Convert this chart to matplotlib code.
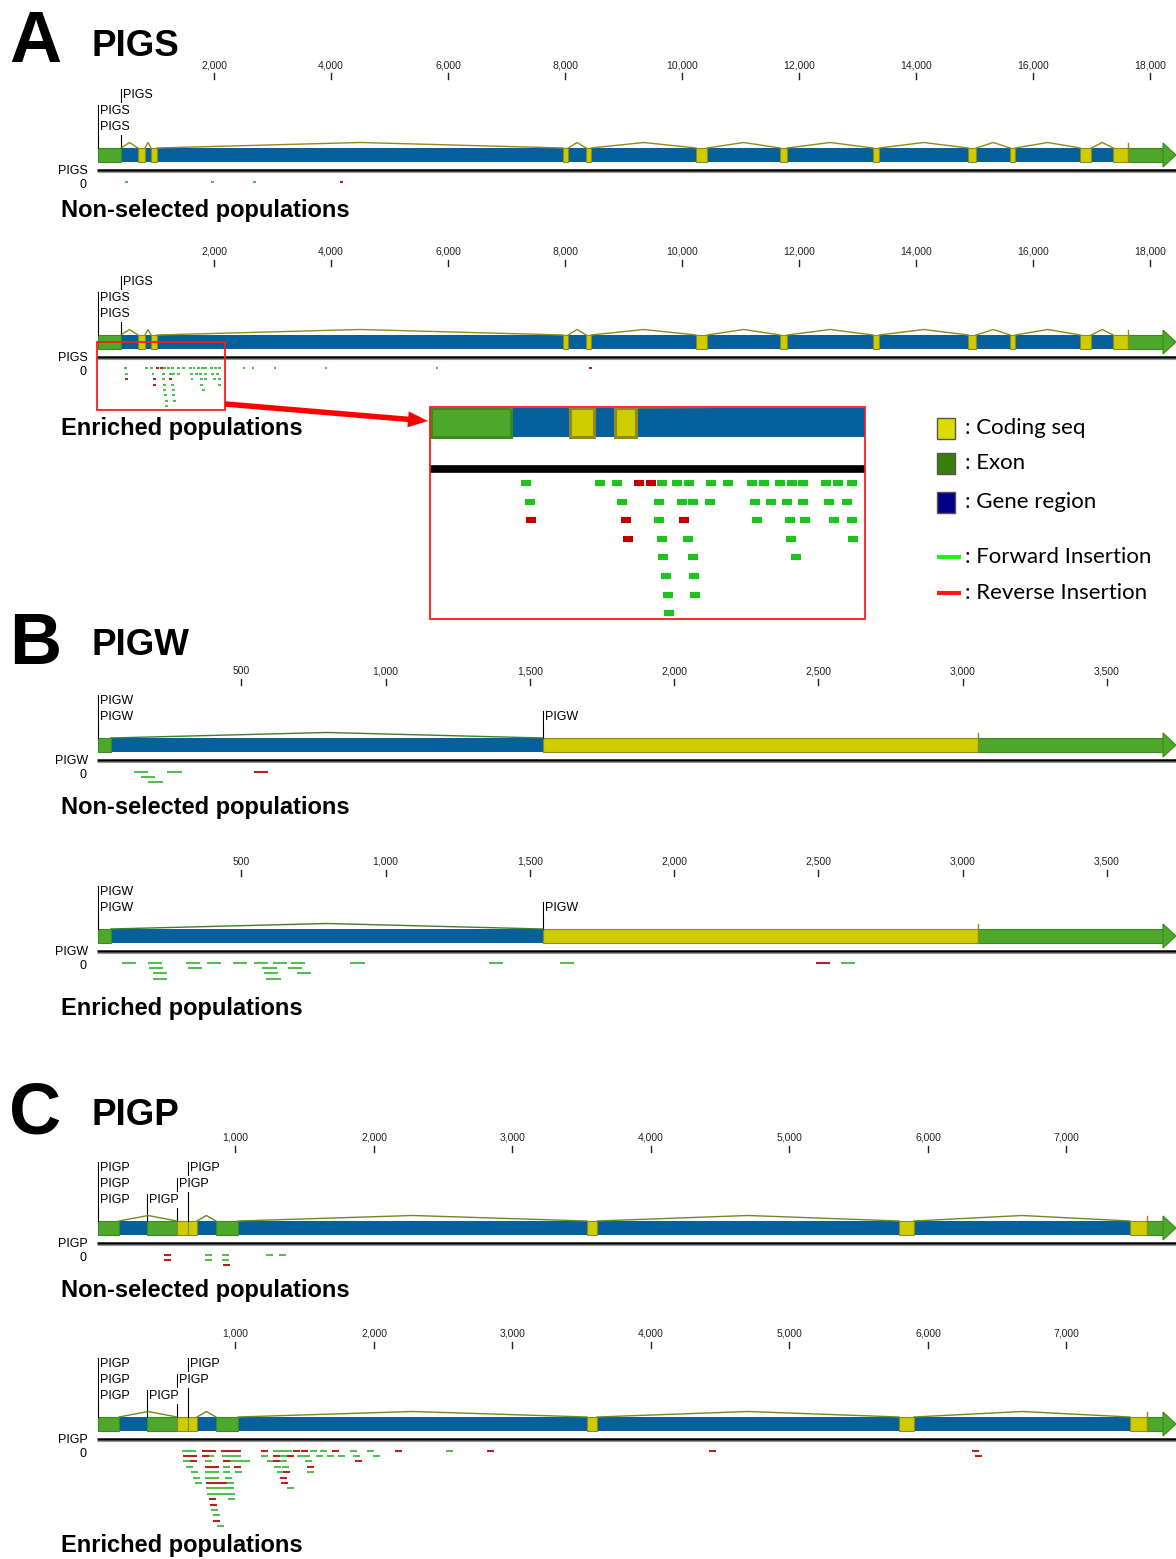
import matplotlib.pyplot as plt
from matplotlib.patches import Rectangle, Polygon, FancyArrow

plt.rcParams['font.family'] = ['Liberation Sans', 'DejaVu Sans']

W, H = 1176, 1559
X0 = 97          # pixel column of bp 0 in every track
ROW = 5.4        # spacing of stacked insertion rows (px)
READ = 50        # bp covered by one insertion dash

BLUE = '#05609c'
GREEN = '#4ea82c'
GREEN_EDGE = '#3b8a1d'
YELLOW = '#cfcc00'
OLIVE = '#8e8a1c'
FWD = '#52bf52'
REV = '#b32323'

# ---------------- PIGS ----------------
pigs_end = 18440
pigs_ticks = [2000, 4000, 6000, 8000, 10000, 12000, 14000, 16000, 18000]
pigs_exons = [(17, 410), (17624, 18440)]
pigs_cds = [(700, 820), (923, 1026), (7966, 8051), (8359, 8444), (10239, 10427),
            (11675, 11795), (13265, 13368), (14889, 15026), (15607, 15692),
            (16803, 16991), (17368, 17624)]
pigs_introns = [(410, 700), (820, 923), (1026, 7966), (8051, 8359), (8444, 10239),
                (10427, 11675), (11795, 13265), (13368, 14889), (15026, 15607),
                (15692, 16803), (16991, 17368)]
pigs_marks = [17624]
pigs_labels = [(17, 1), (17, 2), (410, 0)]

pigs_ns_fwd = [(480, 0), (1950, 0), (2670, 0)]
pigs_ns_rev = [(4155, 0)]

pigs_en_fwd = [(457, 0), (824, 0), (908, 0), (1130, 0), (1204, 0), (1263, 0), (1372, 0),
               (1455, 0), (1574, 0), (1633, 0), (1712, 0), (1771, 0), (1825, 0), (1939, 0),
               (1998, 0), (2067, 0), (2487, 0), (2641, 0), (3017, 0), (3889, 0), (5786, 0),
               (479, 1), (932, 1), (1115, 1), (1228, 1), (1283, 1), (1367, 1), (1589, 1),
               (1668, 1), (1746, 1), (1825, 1), (1954, 1), (2042, 1),
               (1115, 2), (1598, 2), (1761, 2), (1835, 2), (1978, 2), (2067, 2),
               (1130, 3), (1258, 3), (1766, 3), (2072, 3),
               (1135, 4), (1283, 4), (1791, 4),
               (1149, 5), (1288, 5),
               (1159, 6), (1293, 6),
               (1164, 7)]
pigs_en_rev = [(1016, 0), (1075, 0), (8402, 0), (483, 2), (952, 2), (1238, 2), (962, 3)]

# ---------------- PIGW ----------------
pigw_end = 3739
pigw_ticks = [500, 1000, 1500, 2000, 2500, 3000, 3500]
pigw_exons = [(3, 48), (3053, 3739)]
pigw_cds = [(1545, 3053)]
pigw_introns = [(48, 1545)]
pigw_marks = [3053]
pigw_labels = [(3, 0), (3, 1), (1545, 1)]

pigw_ns_fwd = [(127, 0), (152, 1), (177, 2), (243, 0)]
pigw_ns_rev = [(543, 0)]

pigw_en_fwd = [(85, 0), (176, 0), (308, 0), (381, 0), (471, 0), (544, 0), (610, 0),
               (672, 0), (877, 0), (1358, 0), (1604, 0), (2578, 0),
               (180, 1), (315, 1), (573, 1), (662, 1),
               (194, 2), (577, 2), (693, 2),
               (194, 3), (587, 3)]
pigw_en_rev = [(2490, 0)]

# ---------------- PIGP ----------------
pigp_end = 7791
pigp_ticks = [1000, 2000, 3000, 4000, 5000, 6000, 7000]
pigp_exons = [(7, 159), (361, 578), (859, 1018), (7581, 7791)]
pigp_cds = [(578, 657), (657, 722), (3538, 3610), (5791, 5899), (7458, 7581)]
pigp_introns = [(159, 578), (722, 859), (1018, 3538), (3610, 5791), (5899, 7458)]
pigp_marks = [7581]
pigp_labels = [(7, 0), (7, 1), (7, 2), (361, 2), (578, 1), (657, 0)]

pigp_ns_fwd = [(780, 0), (780, 1), (903, 0), (903, 1), (1220, 0), (1314, 0)]
pigp_ns_rev = [(484, 0), (484, 1), (910, 2)]

pigp_en_fwd = [(616, 0), (666, 0), (1268, 0), (1316, 0), (1357, 0), (1538, 0), (1610, 0),
               (1827, 0), (1949, 0), (2520, 0),
               (794, 1), (900, 1), (941, 1), (992, 1), (1184, 1), (1321, 1), (1442, 1),
               (1490, 1), (1581, 1), (1658, 1), (1742, 1), (1846, 1), (1995, 1),
               (621, 2), (780, 2), (953, 2), (1003, 2), (1053, 2), (1225, 2), (1321, 2), (1502, 2),
               (643, 3), (907, 3), (1278, 3), (1333, 3),
               (676, 4), (780, 4), (830, 4), (912, 4), (996, 4), (1297, 4), (1518, 4),
               (695, 5), (780, 5), (830, 5), (924, 5),
               (708, 6), (939, 6),
               (790, 7), (840, 7), (890, 7), (941, 7), (1374, 7),
               (797, 8), (847, 8), (897, 8), (948, 8),
               (948, 9), (823, 11), (835, 12), (864, 14)]
pigp_en_rev = [(756, 0), (809, 0), (895, 0), (939, 0), (989, 0), (1184, 0), (1415, 0),
               (1473, 0), (1697, 0), (2152, 0), (2816, 0), (4419, 0), (6318, 0),
               (621, 1), (671, 1), (756, 1), (1271, 1), (1370, 1), (6339, 1),
               (671, 2), (907, 2), (1273, 2), (1863, 2),
               (780, 3), (830, 3), (989, 3), (1514, 3),
               (1345, 4), (1321, 5),
               (787, 6), (837, 6), (887, 6), (1326, 6),
               (811, 9), (816, 10), (840, 13)]


fig = plt.figure(figsize=(W / 100, H / 100), dpi=100)


def px_axes(x0, y0, x1, y1, xlim):
    ax = fig.add_axes([x0 / W, 1 - y1 / H, (x1 - x0) / W, (y1 - y0) / H])
    ax.set_xlim(*xlim)
    ax.set_ylim(y1, y0)
    ax.axis('off')
    return ax


def draw_gene(ax, y, h, end, exons, cds, introns, marks, ppb, conn, lw=0.8, peak=5.5):
    head = 13 / ppb
    body_end = end - head
    ax.add_patch(Rectangle((exons[0][0], y), body_end - exons[0][0], h, fc=BLUE, ec='none'))
    for a, b in introns:
        ax.plot([a, (a + b) / 2, b], [y, y - peak, y], color=conn, lw=1)
    for a, b in exons:
        ax.add_patch(Rectangle((a, y), min(b, body_end) - a, h, fc=GREEN, ec=GREEN_EDGE, lw=lw))
    for a, b in cds:
        ax.add_patch(Rectangle((a, y), b - a, h, fc=YELLOW, ec=OLIVE, lw=lw))
    ax.add_patch(Polygon([(body_end, y - 5), (end, y + h / 2), (body_end, y + h + 5)],
                         closed=True, fc=GREEN, ec=GREEN_EDGE, lw=lw, clip_on=False))
    for m in marks:
        ax.plot([m, m], [y - 5, y + h], color=OLIVE, lw=1)


def track(top, name, end, ticks, exons, cds, introns, marks, labels, fwd, rev, conn):
    n_lab = max(r for _, r in labels) + 1
    lab_y = [top + 30 + 16 * i for i in range(n_lab)]
    bar_top = lab_y[-1] + 21
    line_y = bar_top + 22
    row0 = line_y + 11.5
    n_rows = max(r for _, r in fwd + rev) + 1
    ybot = row0 + ROW * n_rows + 4
    ax = px_axes(X0, top - 10, W, ybot, (0, end))
    ppb = (W - X0) / end

    for t in ticks:
        ax.text(t, top, f'{t:,}', ha='center', va='center', fontsize=7.5, color='#222')
        ax.plot([t, t], [top + 8, top + 14], color='#222', lw=1)

    draw_gene(ax, bar_top, 14, end, exons, cds, introns, marks, ppb, conn)

    # feature name flags: a stem from the top-most label down to the bar,
    # hidden wherever another label sits on top of it
    first = {}
    for pos, r in labels:
        first[pos] = min(r, first.get(pos, r))
    for pos, r in first.items():
        ax.plot([pos, pos], [lab_y[r] - 6, bar_top], color='black', lw=0.8, zorder=1)
    for pos, r in labels:
        ax.add_patch(Rectangle((pos + 1 / ppb, lab_y[r] - 8), 32 / ppb, 16,
                               fc='white', ec='none', zorder=5))
        ax.text(pos + 2 / ppb, lab_y[r], name, ha='left', va='center', fontsize=9, zorder=6)

    ax.plot([0, end], [line_y, line_y], color='black', lw=1.8, solid_capstyle='butt')
    ax.plot([0, end], [line_y + 1.6, line_y + 1.6], color='#9a9a9a', lw=0.8, solid_capstyle='butt')
    ax.text(-9 / ppb, line_y + 1, name, ha='right', va='center', fontsize=9)
    ax.text(-11 / ppb, line_y + 15, '0', ha='right', va='center', fontsize=9)

    for pts, col in ((fwd, FWD), (rev, REV)):
        xs = [p for p, _ in pts]
        ys = [row0 + ROW * r for _, r in pts]
        ax.hlines(ys, xs, [x + READ for x in xs], colors=col, lw=1.5)
    return ax


track(65, 'PIGS', pigs_end, pigs_ticks, pigs_exons, pigs_cds, pigs_introns, pigs_marks,
      pigs_labels, pigs_ns_fwd, pigs_ns_rev, OLIVE)
track(252, 'PIGS', pigs_end, pigs_ticks, pigs_exons, pigs_cds, pigs_introns, pigs_marks,
      pigs_labels, pigs_en_fwd, pigs_en_rev, OLIVE)
track(671, 'PIGW', pigw_end, pigw_ticks, pigw_exons, pigw_cds, pigw_introns, pigw_marks,
      pigw_labels, pigw_ns_fwd, pigw_ns_rev, '#3f7f2a')
track(862, 'PIGW', pigw_end, pigw_ticks, pigw_exons, pigw_cds, pigw_introns, pigw_marks,
      pigw_labels, pigw_en_fwd, pigw_en_rev, '#3f7f2a')
track(1138, 'PIGP', pigp_end, pigp_ticks, pigp_exons, pigp_cds, pigp_introns, pigp_marks,
      pigp_labels, pigp_ns_fwd, pigp_ns_rev, '#6f8a22')
track(1334, 'PIGP', pigp_end, pigp_ticks, pigp_exons, pigp_cds, pigp_introns, pigp_marks,
      pigp_labels, pigp_en_fwd, pigp_en_rev, '#6f8a22')

# zoomed view of the 5' end of PIGS (enriched)
ins = px_axes(430, 408, 865, 619, (10, 2156))
draw_gene(ins, 408, 29, pigs_end, pigs_exons, pigs_cds, pigs_introns, pigs_marks,
          0.2027, OLIVE, lw=2.2)
ins.plot([10, 2156], [469, 469], color='black', lw=5.5, solid_capstyle='butt')
for pts, col in ((pigs_en_fwd, '#1ec41e'), (pigs_en_rev, '#c00000')):
    xs = [p for p, _ in pts]
    ys = [483 + 18.6 * r for _, r in pts]
    ins.hlines(ys, xs, [x + READ for x in xs], colors=col, lw=4.4)

# page-level annotations in pixel coordinates
ov = fig.add_axes([0, 0, 1, 1])
ov.set_xlim(0, W)
ov.set_ylim(H, 0)
ov.axis('off')

for letter, gene, y_l, y_g in (('A', 'PIGS', 62, 56), ('B', 'PIGW', 664, 655), ('C', 'PIGP', 1133, 1125)):
    ov.text(9, y_l, letter, fontsize=52, fontweight='bold', va='baseline', ha='left')
    ov.text(92, y_g, gene, fontsize=26.5, fontweight='bold', va='baseline', ha='left')

for txt, y in (('Non-selected populations', 217), ('Enriched populations', 435),
               ('Non-selected populations', 814), ('Enriched populations', 1015),
               ('Non-selected populations', 1297), ('Enriched populations', 1552)):
    ov.text(61, y, txt, fontsize=17, fontweight='bold', va='baseline', ha='left')

ov.add_patch(Rectangle((97, 342), 128, 68, fill=False, ec='#ff1a1a', lw=1.3))
ov.add_patch(Rectangle((430, 407), 435, 212, fill=False, ec='#ff1a1a', lw=1.3))
ov.add_patch(FancyArrow(225, 404, 203, 17, width=5.5, head_width=16, head_length=20,
                        length_includes_head=True, color='#ff0000', lw=0))

legend_boxes = [('#dcdc00', ': Coding seq', 428), ('#3c7d0c', ': Exon', 463),
                ('#00008b', ': Gene region', 502)]
for col, txt, y in legend_boxes:
    ov.add_patch(Rectangle((937, y - 10), 18, 21, fc=col, ec='#555555', lw=1))
    ov.text(965, y, txt, fontsize=16, family='Lato', va='center', ha='left')
for col, txt, y in (('#22ee22', ': Forward Insertion', 557), ('#ff1a1a', ': Reverse Insertion', 593)):
    ov.plot([937, 961], [y, y], color=col, lw=3, solid_capstyle='butt')
    ov.text(965, y, txt, fontsize=16, family='Lato', va='center', ha='left')

fig.savefig('out.png', dpi=100)
